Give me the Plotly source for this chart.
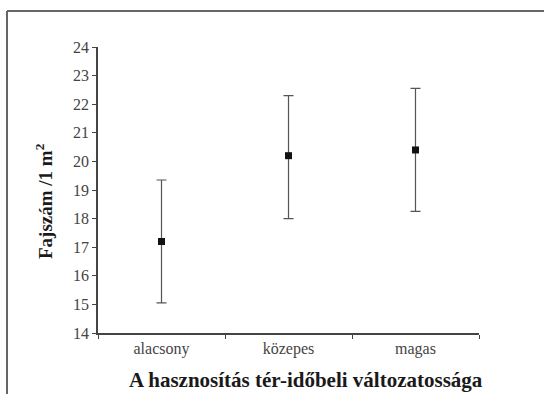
import plotly.graph_objects as go

categories = ["alacsony", "közepes", "magas"]
means = [17.2, 20.2, 20.4]
err_plus = [2.15, 2.1, 2.15]
err_minus = [2.15, 2.2, 2.15]
y_ticks = list(range(14, 25))

fig = go.Figure()
fig.add_trace(go.Scatter(
    x=categories, y=means, mode="markers",
    marker=dict(symbol="square", size=7, color="#111111"),
    error_y=dict(type="data", symmetric=False, array=err_plus, arrayminus=err_minus,
                 color="#555555", thickness=1.2, width=5),
    showlegend=False,
))

W, H = 544, 394
L, R, T, B = 98, 65, 47, 61
pw, ph = W - L - R, H - T - B

def px(x):
    return (x - L) / pw

def py(y):
    return (H - B - y) / ph

serif = "Liberation Serif, Times New Roman, serif"
fig.update_layout(
    width=W, height=H,
    margin=dict(l=L, r=R, t=T, b=B),
    paper_bgcolor="white", plot_bgcolor="white",
    font=dict(family=serif, size=16, color="#333333"),
    xaxis=dict(type="category", tickson="boundaries", ticks="outside", ticklen=4,
               tickcolor="#444444", showline=True, linecolor="#444444", linewidth=1.5,
               showgrid=False, zeroline=False, range=[-0.5, 2.5],
               tickfont=dict(size=16, color="#444444")),
    yaxis=dict(range=[14, 24], tickvals=y_ticks, ticks="outside", ticklen=4,
               tickcolor="#444444", showline=True, linecolor="#444444", linewidth=1.5,
               showgrid=False, zeroline=False, tickfont=dict(size=16, color="#444444")),
    shapes=[
        dict(type="line", xref="paper", yref="paper", x0=px(7), x1=px(W + 5), y0=py(11), y1=py(11),
             line=dict(color="#666666", width=2)),
        dict(type="line", xref="paper", yref="paper", x0=px(7), x1=px(7), y0=py(11), y1=py(H + 5),
             line=dict(color="#666666", width=2)),
    ],
    annotations=[
        dict(text="<b>A hasznosítás tér-időbeli változatossága</b>", xref="paper", yref="paper",
             x=px(306), y=py(380), showarrow=False, xanchor="center", yanchor="middle",
             font=dict(size=21, color="#1a1a1a", family=serif)),
        dict(text="<b>Fajszám /1 m<sup>2</sup></b>", xref="paper", yref="paper",
             x=px(44), y=py(201), showarrow=False, textangle=-90, xanchor="center", yanchor="middle",
             font=dict(size=19, color="#1a1a1a", family=serif)),
    ],
)
fig.write_html("out.html", config={"displayModeBar": False},
               post_script="document.body.style.margin='0';document.body.style.overflow='hidden';")
